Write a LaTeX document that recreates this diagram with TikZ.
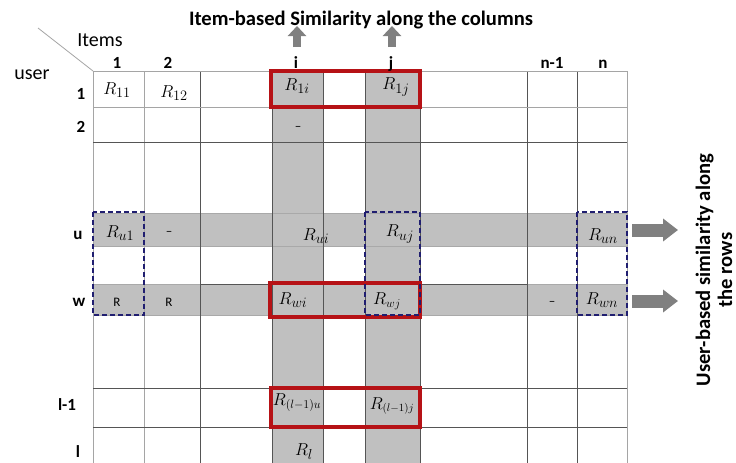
\documentclass[tikz,border=0pt]{standalone}
\usepackage{fontspec}
\setmainfont{Carlito}
\usepackage{amsmath}
\usepackage{tikz}
\usetikzlibrary{arrows.meta}
\definecolor{cellgray}{RGB}{192,192,192}
\definecolor{arrowgray}{RGB}{128,128,128}
\definecolor{griddark}{RGB}{85,85,85}
\definecolor{gridpale}{RGB}{165,165,165}
\definecolor{redline}{RGB}{182,18,22}
\definecolor{bluedash}{RGB}{32,30,112}
\newcommand{\bigbold}{\fontsize{20.6}{22}\selectfont\bfseries}
\newcommand{\hdrfont}{\fontsize{17}{19}\selectfont\bfseries}
\tikzset{
  grayband/.style={fill=cellgray, draw=cellgray!88!black, line width=0.4pt},
  darkline/.style={draw=griddark, line width=0.8pt},
  paleline/.style={draw=gridpale, line width=0.8pt},
  redbox/.style={draw=redline, line width=3.4pt},
  bluebox/.style={draw=bluedash, line width=2.2pt, dash pattern=on 5pt off 3pt},
  colhead/.style={font=\hdrfont, anchor=base, inner sep=0pt},
  rowhead/.style={font=\hdrfont, inner sep=0pt},
  entry/.style={font=\fontsize{19}{21}\selectfont, inner sep=0pt},
  smallentry/.style={font=\fontsize{13}{15}\selectfont, inner sep=0pt},
  uparrow/.style={draw=arrowgray, line width=8pt, -{Triangle[width=18pt,length=10pt]}},
  rightarrow/.style={draw=arrowgray, line width=13pt, -{Triangle[width=22pt,length=15pt]}}
}
\begin{document}
\begin{tikzpicture}[x=1pt, y=-1pt]
\useasboundingbox (0,0) rectangle (736,463);
\fill[white] (0,0) rectangle (736,463);

\path[grayband] (272,71) rectangle (323,463);
\path[grayband] (365,71) rectangle (420,463);
\path[grayband] (93,213) rectangle (627,246);
\path[grayband] (93,284) rectangle (627,315);

\foreach \x in {93,144,627} \draw[paleline] (\x,71) -- (\x,463);
\foreach \x in {200,272,323,365,420,527,577} \draw[darkline] (\x,71) -- (\x,463);
\draw[paleline] (93,71) -- (627,71);
\draw[paleline] (93,107) -- (627,107);
\foreach \y in {142,388,427} \draw[darkline] (93,\y) -- (627,\y);
\draw[darkline] (200,284) -- (527,284);
\draw[gridpale, line width=0.8pt] (38,28) -- (93,71);

\draw[redbox] (271,71) rectangle (420,107);
\draw[redbox] (270,283) rectangle (420,317);
\draw[redbox] (271,388) rectangle (420,427);

\draw[bluebox] (93,212) rectangle (144,315);
\draw[bluebox] (365,212) rectangle (420,315);
\draw[bluebox] (577,212) rectangle (627,315);

\node[font=\bigbold] (title) at (361,20) {Item-based Similarity along the columns};
\node[font=\fontsize{20}{22}\selectfont] (items) at (100,40) {Items};
\node[font=\fontsize{20}{22}\selectfont] (user) at (32,75) {user};
\node[font=\bigbold, align=center, rotate=90] (rowstitle) at (714,270) {User-based similarity along\\the rows};

\coordinate (ibase) at (297,47);
\coordinate (itip) at (297,26);
\coordinate (jbase) at (392,47);
\coordinate (jtip) at (392,26);
\draw[uparrow] (ibase) -- (itip);
\draw[uparrow] (jbase) -- (jtip);
\coordinate (ubase) at (632,230);
\coordinate (utip) at (678,230);
\coordinate (wbase) at (632,301);
\coordinate (wtip) at (678,301);
\draw[rightarrow] (ubase) -- (utip);
\draw[rightarrow] (wbase) -- (wtip);

\node[colhead] (c1) at (117,68) {1};
\node[colhead] (c2) at (168,68) {2};
\node[colhead] (ci) at (296,68) {i};
\node[colhead] (cj) at (391,68) {j};
\node[colhead] (cn1) at (552,68) {n-1};
\node[colhead] (cn) at (603,68) {n};

\node[rowhead] (r1) at (81,94) {1};
\node[rowhead] (r2) at (81,127) {2};
\node[rowhead] (ru) at (78,235) {u};
\node[rowhead] (rw) at (79,302) {w};
\node[rowhead] (rl1) at (67,405) {l-1};
\node[rowhead] (rl) at (78,452) {l};

\node[entry] (e11) at (117,90) {$R_{11}$};
\node[entry] (e12) at (174,93) {$R_{12}$};
\node[entry] (e1i) at (297,86) {$R_{1i}$};
\node[entry] (e1j) at (396,87) {$R_{1j}$};
\node[smallentry] (e2i) at (298,128) {–};
\node[entry] (eu1) at (120,233) {$R_{u1}$};
\node[smallentry] (eu2) at (169,233) {–};
\node[entry] (eui) at (316,236) {$R_{ui}$};
\node[entry] (euj) at (400,234) {$R_{uj}$};
\node[entry] (eun) at (603,236) {$R_{un}$};
\node[smallentry] (ew1) at (117,302) {R};
\node[smallentry] (ew2) at (169,302) {R};
\node[entry] (ewi) at (293,300) {$R_{wi}$};
\node[entry, font=\fontsize{17}{19}\selectfont] (ewj) at (387,301) {$R_{wj}$};
\node[smallentry] (ewn1) at (552,303) {–};
\node[entry] (ewn) at (602,300) {$R_{wn}$};
\node[entry, font=\fontsize{17}{19}\selectfont] (eli) at (297,403) {$R_{(l-1)u}$};
\node[entry, font=\fontsize{16}{18}\selectfont] (elj) at (392,406) {$R_{(l-1)j}$};
\node[entry] (eli2) at (304,452) {$R_l$};
\end{tikzpicture}
\end{document}
